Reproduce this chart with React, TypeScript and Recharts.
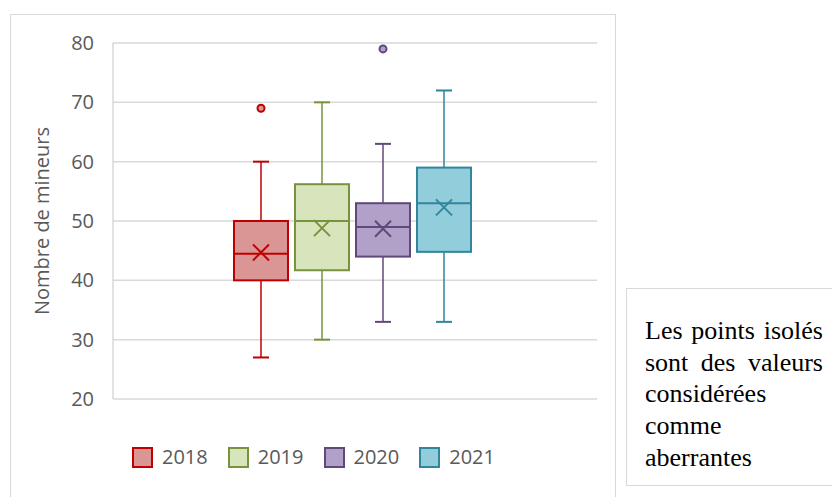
import { ComposedChart, Bar, XAxis, YAxis, CartesianGrid } from "recharts";

// boîtes à moustaches : une série par année, une seule catégorie
const years = ["2018", "2019", "2020", "2021"];
const mins = [27, 30, 33, 33];
const q1s = [40, 41.7, 44, 44.8];
const medians = [44.5, 50, 49, 53];
const q3s = [50, 56.2, 53, 59];
const maxs = [60, 70, 63, 72];
const means = [44.7, 48.8, 48.7, 52.3];
const outliers: number[][] = [[69], [], [79], []];
const yTicks = [20, 30, 40, 50, 60, 70, 80];

const STROKE = ["#C00000", "#77933C", "#60497A", "#31859C"];
const FILL = ["#DA9694", "#D8E4BC", "#B1A0C7", "#92CDDC"];

const FONT = "'Open Sans', 'Liberation Sans', sans-serif";

const row: Record<string, any> = { name: "Nombre de mineurs" };
years.forEach((y, i) => {
  row[`y${y}`] = [mins[i], maxs[i]];
});
const data = [row];

function BoxShape(props: any, i: number) {
  const { x, y, width, height } = props;
  const lo = mins[i];
  const hi = maxs[i];
  const k = height / (hi - lo);
  const py = (v: number) => y + (hi - v) * k;
  const cx = x + width / 2;
  const cap = 8;
  const m = 8;
  const stroke = STROKE[i];
  return (
    <g>
      <line x1={cx} x2={cx} y1={py(hi)} y2={py(q3s[i])} stroke={stroke} strokeWidth={1.5} />
      <line x1={cx} x2={cx} y1={py(q1s[i])} y2={py(lo)} stroke={stroke} strokeWidth={1.5} />
      <line x1={cx - cap} x2={cx + cap} y1={py(hi)} y2={py(hi)} stroke={stroke} strokeWidth={2} />
      <line x1={cx - cap} x2={cx + cap} y1={py(lo)} y2={py(lo)} stroke={stroke} strokeWidth={2} />
      <rect
        x={x + 1}
        y={py(q3s[i])}
        width={width - 2}
        height={py(q1s[i]) - py(q3s[i])}
        fill={FILL[i]}
        stroke={stroke}
        strokeWidth={2}
      />
      <line x1={x + 1} x2={x + width - 1} y1={py(medians[i])} y2={py(medians[i])} stroke={stroke} strokeWidth={2} />
      <path
        d={`M${cx - m},${py(means[i]) - m}L${cx + m},${py(means[i]) + m}M${cx - m},${py(means[i]) + m}L${cx + m},${py(means[i]) - m}`}
        stroke={stroke}
        strokeWidth={2}
        fill="none"
      />
      {outliers[i].map((o, j) => (
        <circle key={j} cx={cx} cy={py(o)} r={3.5} fill={FILL[i]} stroke={stroke} strokeWidth={2} />
      ))}
    </g>
  );
}

function LegendBox() {
  return (
    <div style={{ display: "flex", fontFamily: FONT, fontSize: 20, color: "#595959" }}>
      {years.map((y, i) => (
        <div key={y} style={{ display: "flex", alignItems: "center", marginRight: 20 }}>
          <span
            style={{
              display: "inline-block",
              width: 17,
              height: 17,
              background: FILL[i],
              border: `2px solid ${STROKE[i]}`,
              marginRight: 9,
            }}
          />
          <span style={{ lineHeight: "24px" }}>{y}</span>
        </div>
      ))}
    </div>
  );
}

export default function App() {
  return (
    <div
      style={{
        position: "absolute",
        left: 0,
        top: 0,
        width: 832,
        height: 497,
        overflow: "hidden",
        background: "#fff",
      }}
    >
      <div
        style={{
          position: "absolute",
          left: 10,
          top: 14,
          width: 604,
          height: 520,
          border: "1.5px solid #d9d9d9",
        }}
      />
      <div style={{ position: "absolute", left: 0, top: 0 }}>
        <ComposedChart
          width={832}
          height={497}
          data={data}
          margin={{ top: 43, right: 235, left: 53, bottom: 98 }}
          barSize={56}
          barGap={5}
        >
          <CartesianGrid vertical={false} stroke="#d9d9d9" strokeWidth={1.5} />
          <XAxis dataKey="name" type="category" hide padding={{ left: 0, right: 5 }} />
          <YAxis
            width={60}
            domain={[20, 80]}
            ticks={yTicks}
            interval={0}
            axisLine={{ stroke: "#d9d9d9", strokeWidth: 1.5 }}
            tickLine={false}
            tickMargin={13}
            tick={{ fill: "#595959", fontSize: 20, fontFamily: FONT }}
            label={{
              content: ({ viewBox }: any) => (
                <text
                  x={viewBox.x - 12}
                  y={viewBox.y + viewBox.height / 2}
                  transform={`rotate(-90 ${viewBox.x - 12} ${viewBox.y + viewBox.height / 2})`}
                  textAnchor="middle"
                  dominantBaseline="central"
                  fill="#595959"
                  fontSize={20}
                  fontFamily={FONT}
                >
                  Nombre de mineurs
                </text>
              ),
            }}
          />
          {years.map((y, i) => (
            <Bar
              key={y}
              dataKey={`y${y}`}
              name={y}
              fill={FILL[i]}
              isAnimationActive={false}
              shape={(p: any) => BoxShape(p, i)}
            />
          ))}
        </ComposedChart>
      </div>
      <div style={{ position: "absolute", left: 132, top: 445 }}>
        <LegendBox />
      </div>
      <div
        style={{
          position: "absolute",
          left: 626,
          top: 288,
          width: 230,
          height: 198,
          border: "1px solid #d9d9d9",
          boxSizing: "border-box",
          padding: "26px 0 0 18px",
          fontFamily: "'Liberation Serif', 'Times New Roman', serif",
          fontSize: 26,
          lineHeight: "31.7px",
          color: "#000",
        }}
      >
        <div style={{ width: 178, textAlign: "justify" }}>
          Les points isolés sont des valeurs considérées comme aberrantes
        </div>
      </div>
    </div>
  );
}
